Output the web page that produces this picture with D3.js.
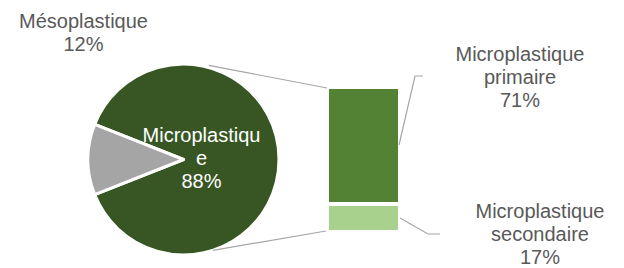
<!DOCTYPE html>
<html><head><meta charset="utf-8">
<script src="https://cdn.jsdelivr.net/npm/d3@7"></script>
<style>body{margin:0;background:#fff}svg{display:block}</style>
</head><body><svg id="c" width="624" height="268"></svg>
<script>
const pieCategories = ["Microplastique", "Mésoplastique"];
const pieValues = [88, 12];
const barCategories = ["Microplastique primaire", "Microplastique secondaire"];
const barValues = [71, 17];

const pieColors = ["#375623", "#A5A5A5"];
const barColors = ["#548235", "#A9D18E"];
const textColor = "#595959";
const lineColor = "#A6A6A6";
const font = "'Liberation Sans', Arial, sans-serif";
const fs = 20, lh = 23;

const svg = d3.select("#c");
const fmt = v => Math.round(v) + "%";

// ---- Pie ----
const cx = 183.5, cy = 159.5, r = 95.5;
const total = d3.sum(pieValues);
const mesoAngle = pieValues[1] / total * 2 * Math.PI;
const start = -Math.PI / 2 + mesoAngle / 2;
const pie = d3.pie().sort(null).value(d => d).startAngle(start).endAngle(start + 2 * Math.PI);
const arcs = pie(pieValues);
const arc = d3.arc().innerRadius(0).outerRadius(r);
const gp = svg.append("g").attr("transform", `translate(${cx},${cy})`);
gp.selectAll("path").data(arcs).join("path")
  .attr("d", arc)
  .attr("fill", (d, i) => pieColors[i])
  .attr("stroke", "#fff").attr("stroke-width", 3).attr("stroke-linejoin", "round");

// ---- Bar ----
const x = d3.scaleBand().domain(["Microplastique"]).range([327, 400]);
const barTotal = d3.sum(barValues);
const y = d3.scaleLinear().domain([0, barTotal]).range([232, 87]);
const row = {};
barCategories.forEach((c, i) => row[c] = barValues[i]);
const stack = d3.stack().keys(barCategories.slice().reverse());
const series = stack([row]);
const gb = svg.append("g");
series.forEach(s => {
  const idx = barCategories.indexOf(s.key);
  const d = s[0];
  gb.append("rect")
    .attr("x", x("Microplastique"))
    .attr("width", x.bandwidth())
    .attr("y", y(d[1]))
    .attr("height", y(d[0]) - y(d[1]))
    .attr("fill", barColors[idx])
    .attr("stroke", "#fff").attr("stroke-width", 4);
});

// ---- Connector lines ----
const pt = (deg, rr) => [cx + rr * Math.sin(deg * Math.PI / 180), cy - rr * Math.cos(deg * Math.PI / 180)];
const topP = pt(15, r + 2), botP = pt(162, r);
svg.append("line").attr("x1", topP[0]).attr("y1", topP[1])
  .attr("x2", x("Microplastique")).attr("y2", y(barTotal) + 1)
  .attr("stroke", lineColor).attr("stroke-width", 1.2);
svg.append("line").attr("x1", botP[0]).attr("y1", botP[1])
  .attr("x2", x("Microplastique") - 1).attr("y2", y(0) - 1)
  .attr("stroke", lineColor).attr("stroke-width", 1.2);

// ---- Leader lines ----
const barRight = x("Microplastique") + x.bandwidth();
svg.append("polyline")
  .attr("points", `${barRight - 1},${145} 415,76 423,76`)
  .attr("fill", "none").attr("stroke", lineColor).attr("stroke-width", 1.2);
svg.append("polyline")
  .attr("points", `${barRight},${218} 428,234 440,234`)
  .attr("fill", "none").attr("stroke", lineColor).attr("stroke-width", 1.2);

// ---- Labels ----
function label(lines, px, py, color) {
  const t = svg.append("text").attr("text-anchor", "middle")
    .attr("font-family", font).attr("font-size", fs).attr("fill", color);
  lines.forEach((s, i) => t.append("tspan").attr("x", px).attr("y", py + i * lh).text(s));
}
label([pieCategories[1], fmt(pieValues[1] / total * 100)], 83.5, 28, textColor);
label(["Microplastiqu", "e", fmt(pieValues[0] / total * 100)], 201.5, 142, "#fff");
label(["Microplastique", "primaire", fmt(barValues[0])], 520, 61, textColor);
label(["Microplastique", "secondaire", fmt(barValues[1])], 540, 218, textColor);
</script></body></html>
